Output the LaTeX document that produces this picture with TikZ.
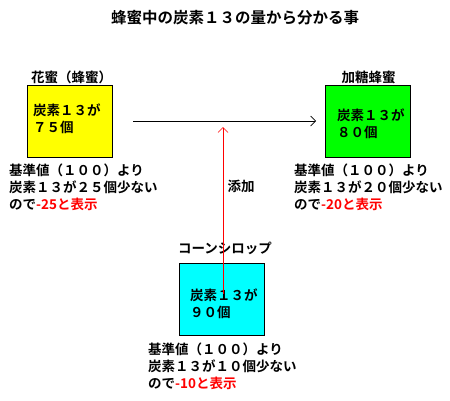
\documentclass[tikz,border=0pt]{standalone}
\usepackage{fontspec}
\setmainfont{Noto Sans CJK JP}[BoldFont={Noto Sans CJK JP Bold}]
\usetikzlibrary{arrows.meta}
\definecolor{boxyellow}{RGB}{255,255,0}
\definecolor{boxgreen}{RGB}{0,255,0}
\definecolor{boxcyan}{RGB}{0,255,255}
\tikzset{
  box/.style={draw=black, line width=0.8pt, minimum width=85pt, minimum height=72pt, inner sep=0pt},
  lbl/.style={font=\bfseries\fontsize{13.5pt}{17pt}\selectfont, inner sep=0pt},
  txt/.style={font=\bfseries\fontsize{13.5pt}{17pt}\selectfont, inner sep=0pt, anchor=north west, align=left},
  conn/.style={line width=0.7pt, -{Straight Barb[length=5pt,width=10pt,line width=0.7pt]}}
}
\begin{document}
\begin{tikzpicture}[x=1pt,y=-1pt]
\useasboundingbox (0,0) rectangle (450,400);
\node[lbl, font=\bfseries\fontsize{15.5pt}{18pt}\selectfont] (title) at (235,18) {蜂蜜中の炭素１３の量から分かる事};
% boxes
\node[box, fill=boxyellow] (yellow) at (69.5,121) {};
\node[box, fill=boxgreen] (green) at (368,121) {};
\node[box, fill=boxcyan] (cyan) at (222,299) {};
% labels above boxes
\node[lbl] (ylbl) at (71.5,77) {花蜜（蜂蜜）};
\node[lbl] (glbl) at (368.5,77) {加糖蜂蜜};
\node[lbl] (clbl) at (225,248) {コーンシロップ};
% inner texts
\node[txt] (ytxt) at (33,104) {炭素１３が\\７５個};
\node[txt] (gtxt) at (337,109) {炭素１３が\\８０個};
\node[txt] (ctxt) at (190,289) {炭素１３が\\９０個};
% explanations
\node[txt] (yexp) at (9,164) {基準値（１００）より\\炭素１３が２５個少ない\\ので\textcolor{red}{-25と表示}};
\node[txt] (gexp) at (294,164) {基準値（１００）より\\炭素１３が２０個少ない\\ので\textcolor{red}{-20と表示}};
\node[txt] (cexp) at (148,343) {基準値（１００）より\\炭素１３が１０個少ない\\ので\textcolor{red}{-10と表示}};
\node[lbl] (add) at (241,186) {添加};
% connectors
\draw[conn] ([xshift=21pt]yellow.east) -- ([xshift=-9pt]green.west);
\coordinate (addtip) at (223,127);
\draw[conn, red] ([yshift=-31pt]cyan.north -| addtip) -- (addtip);
\end{tikzpicture}
\end{document}
